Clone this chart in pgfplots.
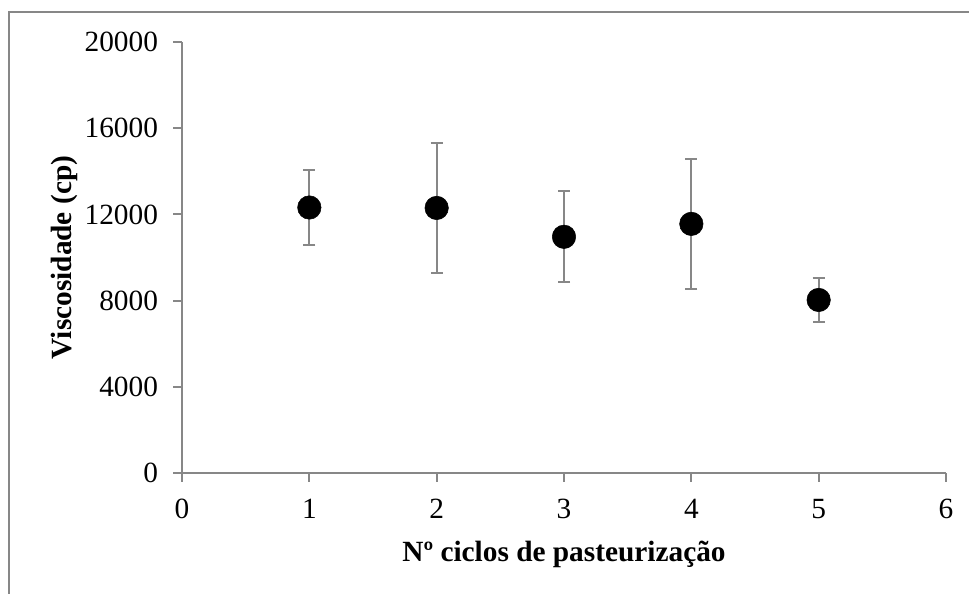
\documentclass[border=0pt]{standalone}
\usepackage{fontspec}
\setmainfont{Liberation Serif}
\usepackage{pgfplots}
\pgfplotsset{compat=1.18}
\definecolor{axisgray}{HTML}{878787}

\begin{document}
\begin{tikzpicture}[x=0.75bp,y=0.75bp]
  % canvas of 969 x 594 units, origin at bottom left
  \useasboundingbox (0,0) rectangle (969,594);
  % open frame around the figure (top and left edges)
  \draw[axisgray, line width=1.5bp] (8.5,0) -- (8.5,581.5) -- (969,581.5);
  \begin{axis}[
    at={(136.5bp,90.75bp)}, anchor=origin,
    scale only axis, width=573bp, height=323.25bp,
    xmin=0, xmax=6, ymin=0, ymax=20000,
    xtick={0,1,...,6}, ytick={0,4000,...,20000},
    axis lines=left, axis line style={axisgray, line width=1.5bp, -},
    tick align=outside, major tick length=6.5bp,
    tick style={axisgray, line width=1.5bp},
    /pgf/number format/assume math mode=true,
    scaled y ticks=false,
    yticklabel style={/pgf/number format/1000 sep={}, xshift=-8bp},
    xticklabel style={yshift=-9.5bp},
    ticklabel style={font=\fontsize{22bp}{26bp}\selectfont, black},
    xlabel={\textbf{Nº ciclos de pasteurização}},
    ylabel={\textbf{Viscosidade (cp)}},
    label style={font=\fontsize{22bp}{26bp}\selectfont, black},
    xlabel style={at={(axis description cs:0.5,-0.188)}, anchor=center},
    ylabel style={at={(axis description cs:-0.1545,0.5)}, anchor=center},
    clip=false,
  ]
    \addplot[
      only marks, mark=*, mark size=8.8bp,
      mark options={black, fill=black},
      error bars/.cd, y dir=both, y explicit,
      error mark=-,
      error bar style={axisgray, line width=1.5bp},
      error mark options={axisgray, line width=1.5bp, mark size=4.5bp, rotate=90},
    ] table[x=n, y=v, y error=e] {
      n  v      e
      1  12320  1760
      2  12300  3030
      3  10960  2120
      4  11560  3025
      5  8030   1040
    };
  \end{axis}
\end{tikzpicture}
\end{document}
